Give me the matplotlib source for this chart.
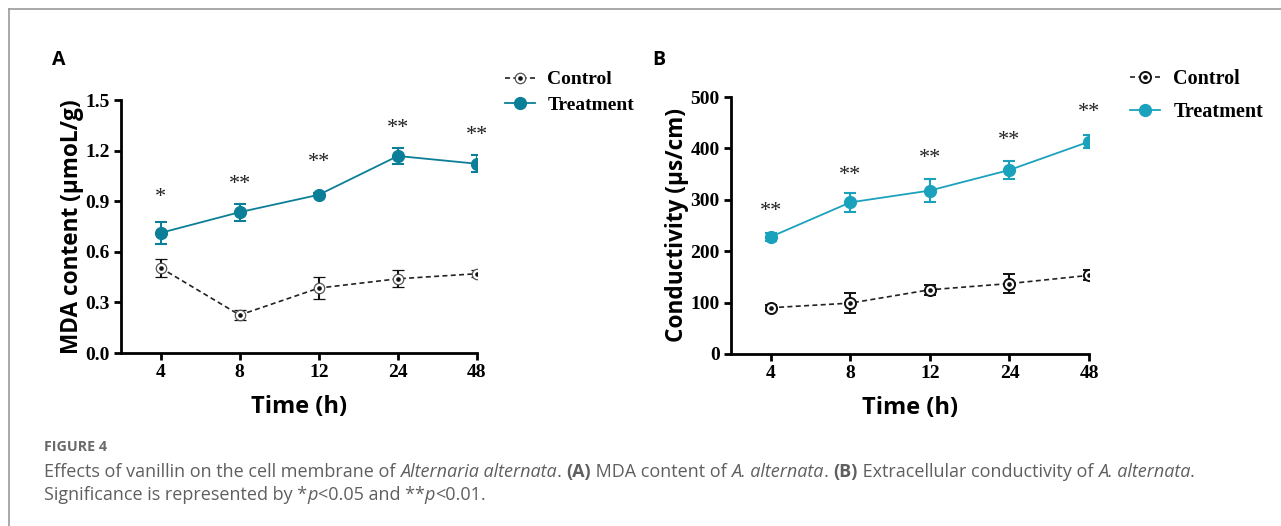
import matplotlib
matplotlib.use("Agg")
import matplotlib.pyplot as plt
from matplotlib.lines import Line2D

# ---------------- data ----------------
times = ["4", "8", "12", "24", "48"]

mda_control = [0.505, 0.225, 0.385, 0.440, 0.470]
mda_control_err = [0.055, 0.030, 0.065, 0.050, 0.020]
mda_treat = [0.712, 0.835, 0.938, 1.168, 1.122]
mda_treat_err = [0.065, 0.050, 0.010, 0.048, 0.050]
mda_stars = ["*", "**", "**", "**", "**"]
mda_star_y = [0.92, 1.00, 1.13, 1.33, 1.29]

cond_control = [90, 99, 125, 137, 153]
cond_control_err = [6, 20, 10, 18, 10]
cond_treat = [228, 295, 318, 358, 413]
cond_treat_err = [8, 18, 23, 17, 13]
cond_stars = ["**", "**", "**", "**", "**"]
cond_star_y = [278, 348, 381, 416, 469]

W, H = 1281, 526
fig = plt.figure(figsize=(W / 100, H / 100), dpi=100)
fig.patch.set_facecolor("white")

TICK_FONT = dict(family="Liberation Serif", weight="bold", size=14)
XLABEL_FONT = dict(family="Open Sans", weight="bold", size=17)
YLABEL_FONT = dict(family="Open Sans", weight="bold", size=16.3)


def px_axes(l, t, r, b):
    return fig.add_axes([l / W, 1 - b / H, (r - l) / W, (b - t) / H])


def draw_panel(ax, ctrl, ctrl_err, trt, trt_err, stars, star_y, color,
               ylim, yticks, yticklabels, ylabel, ylabelpad,
               cms, cmew, cmec):
    x = list(range(len(times)))
    ctrl_line = ax.errorbar(x, ctrl, yerr=ctrl_err, color="#222222", lw=1.2,
                            ls=(0, (3, 2)), marker="o", ms=cms, mfc="white",
                            mec=cmec, mew=cmew, ecolor="#111111",
                            elinewidth=1.5, capsize=4, capthick=1.5, zorder=3)
    dot = ax.plot(x, ctrl, ls="none", marker="o", ms=2.3, color="#111111",
                  zorder=4)[0]
    trt_line = ax.errorbar(x, trt, yerr=trt_err, color=color, lw=1.3,
                           marker="o", ms=8.5, mfc=color, mec=color,
                           ecolor=color, elinewidth=1.5, capsize=4,
                           capthick=1.5, zorder=3)
    for xi, s, sy in zip(x, stars, star_y):
        ax.text(xi, sy, s, ha="center", va="center", family="Liberation Serif",
                size=16, color="#222222")
    ax.set_xlim(-0.5, 4.0)
    ax.set_ylim(*ylim)
    ax.set_xticks(x)
    ax.set_xticklabels(times, fontdict=TICK_FONT)
    ax.set_yticks(yticks)
    ax.set_yticklabels(yticklabels, fontdict=TICK_FONT)
    for side in ("top", "right"):
        ax.spines[side].set_visible(False)
    for side in ("left", "bottom"):
        ax.spines[side].set_linewidth(2.0)
        ax.spines[side].set_color("black")
    ax.tick_params(axis="both", direction="out", width=2.0, length=5,
                   color="black", pad=3)
    ax.set_xlabel("Time (h)", fontdict=XLABEL_FONT, labelpad=10)
    ax.set_ylabel(ylabel, fontdict=YLABEL_FONT, labelpad=ylabelpad)
    ax.patch.set_alpha(0)
    return (ctrl_line.lines[0], dot), trt_line.lines[0]


axA = px_axes(121, 100, 477, 353)
hA = draw_panel(axA, mda_control, mda_control_err, mda_treat, mda_treat_err,
                mda_stars, mda_star_y, "#0b7f98", (0, 1.5),
                [0, 0.3, 0.6, 0.9, 1.2, 1.5],
                ["0.0", "0.3", "0.6", "0.9", "1.2", "1.5"],
                "MDA content (\u00b5moL/g)", 1, 7.5, 0.9, "#555555")

axB = px_axes(731, 97, 1089, 354)
hB = draw_panel(axB, cond_control, cond_control_err, cond_treat, cond_treat_err,
                cond_stars, cond_star_y, "#1aa2bc", (0, 500),
                [0, 100, 200, 300, 400, 500],
                ["0", "100", "200", "300", "400", "500"],
                "Conductivity (\u00b5s/cm)", 1, 8, 1.4, "#111111")

fig.legend([hA[0], hA[1]], ["Control", "Treatment"], loc="upper left",
           bbox_to_anchor=(495 / W, 1 - 61 / H), frameon=False, borderpad=0,
           prop=dict(family="Liberation Serif", weight="bold", size=14),
           handlelength=1.55, handletextpad=0.65, labelspacing=0.42)
fig.legend([hB[0], hB[1]], ["Control", "Treatment"], loc="upper left",
           bbox_to_anchor=(1120 / W, 1 - 59 / H), frameon=False, borderpad=0,
           prop=dict(family="Liberation Serif", weight="bold", size=14.5),
           handlelength=1.5, handletextpad=0.65, labelspacing=0.65)

# panel letters
fig.text(52 / W, 1 - 60 / H, "A", family="Open Sans", weight="bold", size=14,
         va="center", ha="left")
fig.text(652 / W, 1 - 60 / H, "B", family="Open Sans", weight="bold", size=14,
         va="center", ha="left")

# frame lines
fig.add_artist(Line2D([9 / W, 1], [1 - 9 / H, 1 - 9 / H], color="#9a9a9a",
                      lw=1.2, transform=fig.transFigure))
fig.add_artist(Line2D([9 / W, 9 / W], [0, 1 - 9 / H], color="#9a9a9a",
                      lw=1.2, transform=fig.transFigure))

# caption
CAP = "#5f5f5f"
CAP_FAMILY = "Open Sans"
CAP_SIZE = 12.95
fig.text(44 / W, 1 - 447 / H, "FIGURE 4", family=CAP_FAMILY, weight="bold",
         size=10.3, color="#6a6a6a", va="center", ha="left")

renderer = fig.canvas.get_renderer()


def runs(y, pieces, x0=44):
    x = x0
    for txt, style, weight in pieces:
        t = fig.text(x / W, 1 - y / H, txt, family=CAP_FAMILY, style=style,
                     weight=weight, size=CAP_SIZE, color=CAP, va="baseline",
                     ha="left")
        bb = t.get_window_extent(renderer)
        x = bb.x1


runs(477, [
    ("Effects of vanillin on the cell membrane of ", "normal", "normal"),
    ("Alternaria alternata", "italic", "normal"),
    (". ", "normal", "normal"),
    ("(A)", "normal", "bold"),
    (" MDA content of ", "normal", "normal"),
    ("A. alternata", "italic", "normal"),
    (". ", "normal", "normal"),
    ("(B)", "normal", "bold"),
    (" Extracellular conductivity of ", "normal", "normal"),
    ("A. alternata", "italic", "normal"),
    (".", "normal", "normal"),
])
runs(500, [
    ("Significance is represented by *", "normal", "normal"),
    ("p", "italic", "normal"),
    ("<0.05 and **", "normal", "normal"),
    ("p", "italic", "normal"),
    ("<0.01.", "normal", "normal"),
])

fig.savefig("out.png", dpi=100, facecolor="white")
